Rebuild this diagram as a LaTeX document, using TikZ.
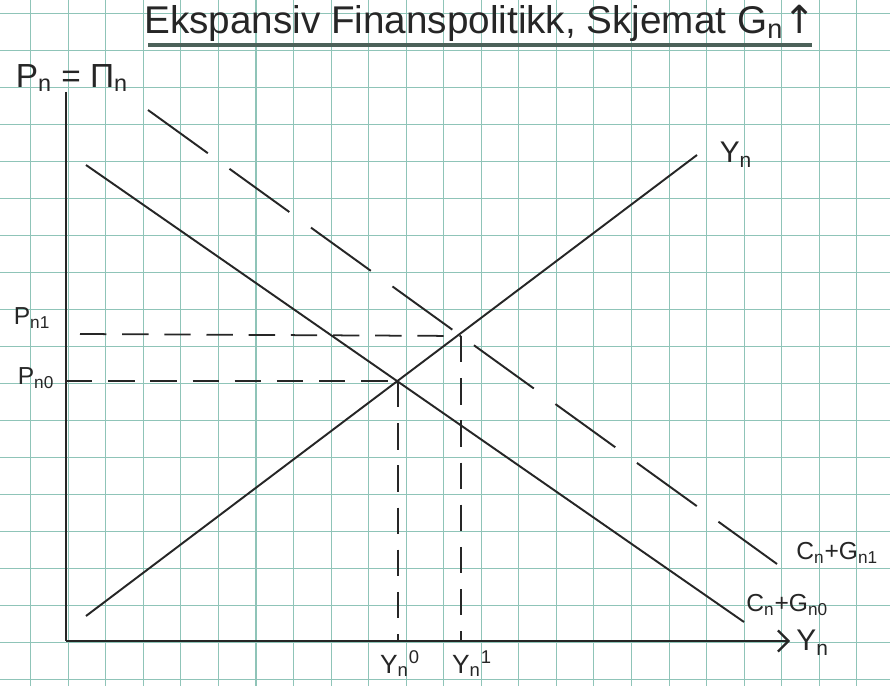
\documentclass[tikz,border=0pt]{standalone}
\usepackage{fontspec}
\setmainfont{Liberation Sans}
\newfontfamily\arrowfont{DejaVu Sans}
\usetikzlibrary{arrows.meta}
\definecolor{paperruling}{rgb}{0.56,0.77,0.72}
\definecolor{penink}{rgb}{0.15,0.15,0.15}
\definecolor{underlineink}{rgb}{0.30,0.38,0.35}

\begin{document}
\begin{tikzpicture}[x=0.02cm,y=-0.02cm,
  curve/.style={penink,line width=1.1pt},
  shifted/.style={penink,line width=1.1pt,dash pattern=on 42pt off 15.2pt},
  guide/.style={penink,line width=1pt,dash pattern=on 15pt off 9pt},
  lbl/.style={text=penink,inner sep=0pt,font=\fontsize{14}{16}\selectfont}]
\useasboundingbox (0,0) rectangle (890,686);
\fill[white] (0,0) rectangle (890,686);
\begin{scope}
\clip (0,0) rectangle (890,686);
\foreach \k in {-1,...,23}
  \draw[paperruling,line width=0.6pt] ({30.7+37.55*\k},0) -- ({30.7+37.55*\k},686);
\foreach \k in {-1,...,18}
  \draw[paperruling,line width=0.6pt] (0,{13.3+37.0*\k}) -- (890,{13.3+37.0*\k});
\end{scope}

\coordinate (origin) at (66,641);
\coordinate (ytop) at (66,92);
\coordinate (xend) at (790,641);
\coordinate (eqzero) at (398,381);
\coordinate (eqone) at (461,336);
\coordinate (ynzero) at (398,641);
\coordinate (ynone) at (461,641);
\coordinate (pnzero) at (66,381);
\coordinate (pnone) at (80,334);
\coordinate (ynlow) at (86,616);
\coordinate (ynhigh) at (697,155);
\coordinate (dzeroa) at (86,165);
\coordinate (dzerob) at (744,622);
\coordinate (donea) at (148,110);
\coordinate (doneb) at (777,564);
\coordinate (titlel) at (148,45);
\coordinate (titler) at (812,45);

\node[lbl,font=\fontsize{22}{26}\selectfont] (title) at (480,23)
  {Ekspansiv Finanspolitikk, Skjemat G\textsubscript{n}{\arrowfont ↑}};
\draw[underlineink,line width=1.8pt] (titlel) -- (titler);

\draw[penink,line width=1.3pt] (ytop) -- (origin);
\draw[penink,line width=1.3pt,-{Straight Barb[length=6pt,width=12pt]}] (origin) -- (xend);

\draw[guide] (pnone) -- (eqone);
\draw[guide] (pnzero) -- (eqzero);
\draw[guide] (eqzero) -- (ynzero);
\draw[guide] (eqone) -- (ynone);

\draw[curve] (ynlow) -- (ynhigh);
\draw[curve] (dzeroa) -- (dzerob);
\draw[shifted] (donea) -- (doneb);

\node[lbl,font=\fontsize{19}{22}\selectfont] (pnaxis) at (72,78) {P\textsubscript{n} = Π\textsubscript{n}};
\node[lbl] (pnonelbl) at (32,318) {P\textsubscript{n1}};
\node[lbl] (pnzerolbl) at (36,378) {P\textsubscript{n0}};
\node[lbl,font=\fontsize{17}{20}\selectfont] (ynlbl) at (736,155) {Y\textsubscript{n}};
\node[lbl,anchor=west] (gonelbl) at (796,553) {C\textsubscript{n}+G\textsubscript{n1}};
\node[lbl,anchor=west] (gzerolbl) at (746,605) {C\textsubscript{n}+G\textsubscript{n0}};
\node[lbl,font=\fontsize{17}{20}\selectfont,anchor=west] (xaxislbl) at (796,643) {Y\textsubscript{n}};
\node[lbl,font=\fontsize{15}{18}\selectfont] (ynzerolbl) at (400,664) {Y\textsubscript{n}\textsuperscript{0}};
\node[lbl,font=\fontsize{15}{18}\selectfont] (ynonelbl) at (472,664) {Y\textsubscript{n}\textsuperscript{1}};
\end{tikzpicture}
\end{document}
